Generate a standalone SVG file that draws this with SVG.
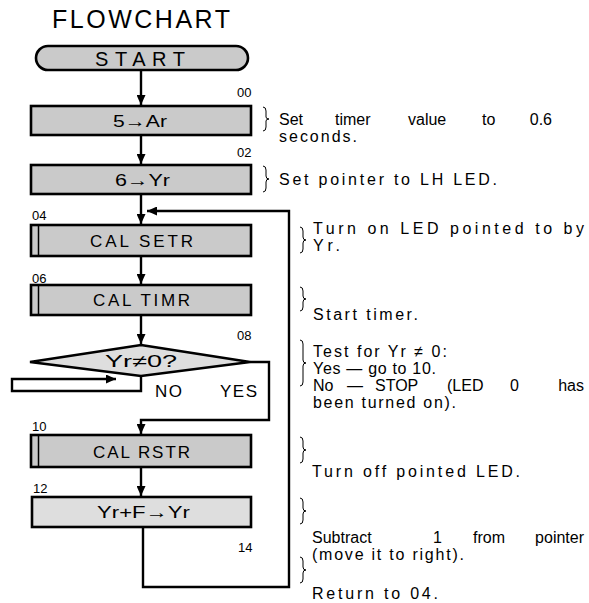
<svg xmlns="http://www.w3.org/2000/svg" width="589" height="603" viewBox="0 0 589 603">
<defs>
<marker id="ah" markerUnits="userSpaceOnUse" markerWidth="11" markerHeight="9" refX="10" refY="4.5" orient="auto">
<path d="M0,0 L10,4.5 L0,9 z" fill="#000"/>
</marker>
<style>
.box{fill:#cacaca;stroke:#000;stroke-width:2.6}
.lt{fill:#dedede}
.lbl{font-family:"Liberation Sans",Arial,sans-serif;font-size:17px;fill:#000}
.num{font-family:"Liberation Sans",Arial,sans-serif;font-size:13px;fill:#000}
.txt{font-family:"Liberation Sans",Arial,sans-serif;font-size:16px;fill:#000}
.end{text-anchor:end}
.con{fill:none;stroke:#000;stroke-width:2.4}
.br{fill:none;stroke:#000;stroke-width:1}
</style>
</defs>
<rect width="589" height="603" fill="#fff"/>
<text class="txt" x="52" y="28" style="font-size:25px" textLength="178" lengthAdjust="spacing">FLOWCHART</text>

<g id="start">
<rect class="box" x="36" y="46" width="212" height="24" rx="12"/>
<text class="lbl" x="95" y="66" style="font-size:20px" textLength="90" lengthAdjust="spacing">START</text>
</g>
<g id="n00">
<rect class="box" x="31" y="106" width="220" height="29"/>
<text class="lbl" x="113" y="127" textLength="54" lengthAdjust="spacingAndGlyphs">5→Ar</text>
<text class="num" x="237" y="97">00</text>
</g>
<g id="n02">
<rect class="box" x="31" y="165" width="220" height="29"/>
<text class="lbl" x="115" y="186" textLength="55" lengthAdjust="spacingAndGlyphs">6→Yr</text>
<text class="num" x="237" y="157">02</text>
</g>
<g id="n04">
<rect class="box" x="31" y="225" width="220" height="31"/>
<line x1="38.5" y1="225" x2="38.5" y2="256" stroke="#000" stroke-width="1.5"/>
<text class="lbl" x="90" y="247" textLength="103" lengthAdjust="spacing">CAL SETR</text>
<text class="num" x="32" y="220">04</text>
</g>
<g id="n06">
<rect class="box" x="31" y="285" width="220" height="30"/>
<line x1="38.5" y1="285" x2="38.5" y2="315" stroke="#000" stroke-width="1.5"/>
<text class="lbl" x="93" y="306" textLength="97" lengthAdjust="spacing">CAL TIMR</text>
<text class="num" x="32" y="283">06</text>
</g>
<g id="n08">
<polygon class="box lt" points="141,345 250,362 141,376 30,362"/>
<text class="lbl" x="105" y="367" textLength="72" lengthAdjust="spacingAndGlyphs">Yr≠0?</text>
<text class="num" x="237" y="340">08</text>
<text class="lbl" x="155" y="397" textLength="27" lengthAdjust="spacing">NO</text>
<text class="lbl" x="220" y="397" textLength="37" lengthAdjust="spacing">YES</text>
</g>
<g id="n10">
<rect class="box" x="31" y="435" width="220" height="32"/>
<line x1="38.5" y1="435" x2="38.5" y2="467" stroke="#000" stroke-width="1.5"/>
<text class="lbl" x="93" y="458" textLength="97" lengthAdjust="spacing">CAL RSTR</text>
<text class="num" x="32" y="431">10</text>
</g>
<g id="n12">
<rect class="box lt" x="32" y="497" width="219" height="30"/>
<text class="lbl" x="97" y="518" textLength="93" lengthAdjust="spacingAndGlyphs">Yr+F→Yr</text>
<text class="num" x="33" y="493">12</text>
</g>
<g id="n14">
<text class="num" x="238" y="552">14</text>
</g>

<g id="connectors">
<line class="con" x1="141" y1="70" x2="141" y2="105" marker-end="url(#ah)"/>
<line class="con" x1="141" y1="135" x2="141" y2="164" marker-end="url(#ah)"/>
<line class="con" x1="141" y1="194" x2="141" y2="224" marker-end="url(#ah)"/>
<line class="con" x1="141" y1="256" x2="141" y2="284" marker-end="url(#ah)"/>
<line class="con" x1="141" y1="315" x2="141" y2="344" marker-end="url(#ah)"/>
<polyline class="con" points="141,376 141,391 12,391 12,379 116,379" marker-end="url(#ah)"/>
<polyline class="con" points="250,362 269,362 269,420 141,420 141,434" marker-end="url(#ah)"/>
<line class="con" x1="141" y1="467" x2="141" y2="496" marker-end="url(#ah)"/>
<polyline class="con" points="143,527 143,587 289,587 289,211 147,211" marker-end="url(#ah)"/>
</g>

<g id="notes">
<path class="br" d="M263,107 q3,0 3,4 v6 q0,2 3,2 q-3,0 -3,2 v6 q0,4 -3,4"/>
<path class="br" d="M263,166 q3,0 3,4 v6 q0,3 3,3 q-3,0 -3,3 v6 q0,4 -3,4"/>
<path class="br" d="M300,227 q3,0 3,4 v6 q0,3 3,3 q-3,0 -3,3 v6 q0,4 -3,4"/>
<path class="br" d="M300,287 q3,0 3,4 v5 q0,3 3,3 q-3,0 -3,3 v5 q0,4 -3,4"/>
<path class="br" d="M300,340 q3,0 3,4 v16 q0,3 3,3 q-3,0 -3,3 v16 q0,4 -3,4"/>
<path class="br" d="M300,437 q3,0 3,4 v6 q0,3 3,3 q-3,0 -3,3 v6 q0,4 -3,4"/>
<path class="br" d="M300,498 q3,0 3,4 v6 q0,3 3,3 q-3,0 -3,3 v6 q0,4 -3,4"/>
<path class="br" d="M300,557 q3,0 3,4 v6 q0,3 3,3 q-3,0 -3,3 v6 q0,4 -3,4"/>

<text class="txt" y="125"><tspan x="279">Set</tspan><tspan x="335">timer</tspan><tspan x="408">value</tspan><tspan x="482">to</tspan><tspan x="552" class="end">0.6</tspan></text>
<text class="txt" x="279" y="142" textLength="78" lengthAdjust="spacing">seconds.</text>
<text class="txt" x="279" y="185" textLength="218" lengthAdjust="spacing">Set pointer to LH LED.</text>
<text class="txt" x="313" y="234" textLength="271" lengthAdjust="spacing">Turn on LED pointed to by</text>
<text class="txt" x="313" y="251" textLength="27" lengthAdjust="spacing">Yr.</text>
<text class="txt" x="313" y="320" textLength="105" lengthAdjust="spacing">Start timer.</text>
<text class="txt" x="313" y="357" textLength="134" lengthAdjust="spacing">Test for Yr ≠ 0:</text>
<text class="txt" x="313" y="374" textLength="123" lengthAdjust="spacing">Yes — go to 10.</text>
<text class="txt" y="391"><tspan x="313">No</tspan><tspan x="347">—</tspan><tspan x="375">STOP</tspan><tspan x="447">(LED</tspan><tspan x="510">0</tspan><tspan x="584" class="end">has</tspan></text>
<text class="txt" x="313" y="408" textLength="143" lengthAdjust="spacing">been turned on).</text>
<text class="txt" x="312" y="477" textLength="208" lengthAdjust="spacing">Turn off pointed LED.</text>
<text class="txt" y="543"><tspan x="312">Subtract</tspan><tspan x="433">1</tspan><tspan x="473">from</tspan><tspan x="584" class="end">pointer</tspan></text>
<text class="txt" x="312" y="560" textLength="152" lengthAdjust="spacing">(move it to right).</text>
<text class="txt" x="312" y="599" textLength="126" lengthAdjust="spacing">Return to 04.</text>
</g>
</svg>
